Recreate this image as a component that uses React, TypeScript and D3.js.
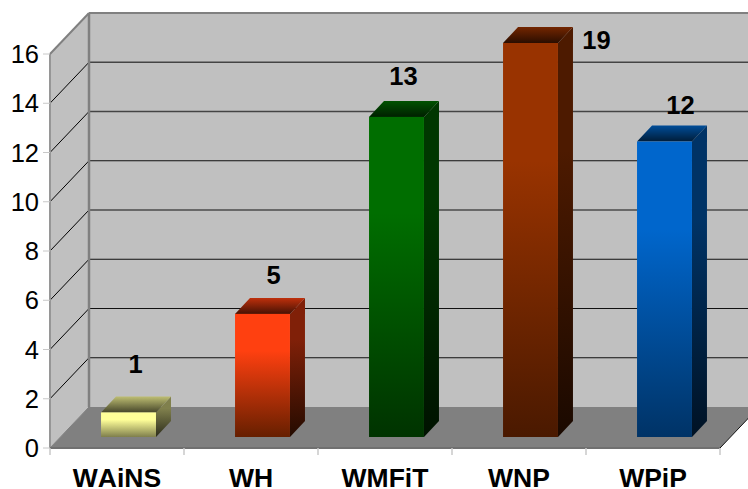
import React from "react";
import * as d3 from "d3";

const categories = ["WAiNS", "WH", "WMFiT", "WNP", "WPiP"];
const values = [1, 5, 13, 19, 12];
const yTicks = [0, 2, 4, 6, 8, 10, 12, 14, 16];
const faceTop = ["#ffff99", "#ff4010", "#006e00", "#993300", "#0066cc"];
const faceBottom = ["#7f7f4c", "#661f00", "#003300", "#4a1900", "#003366"];
// Hand-placed data label nudges from the bar's top centre, as in the original chart
const labelNudgeX = [7, 11, 7, 66, 16];
const labelNudgeY = [-39, -30, -32, 6, -28];

const W = 748, H = 489;
const x0 = 50, x1 = 720, yBase = 448, yTop = 54;
const dx = 39, dy = -41;
const y = d3.scaleLinear().domain([0, 16]).range([yBase, yTop]);
const xBand = d3.scaleBand<string>().domain(categories).range([x0, x1]).paddingInner(0.59).paddingOuter(0.295);
const barDx = 15, barDy = -16, barFx = 11.5, barFy = -11;
const poly = (pts: number[][]) => pts.map(p => p.join(",")).join(" ");
const font = "'Liberation Sans', Arial, sans-serif";

export default function App() {
  const bw = xBand.bandwidth();
  return (
    <svg width={W} height={H} viewBox={`0 0 ${W} ${H}`} style={{ position: "absolute", left: 0, top: 0, background: "#fff" }} fontFamily={font}>
      <defs>
        {categories.map((c, i) => (
          <React.Fragment key={c}>
            <linearGradient id={`f${i}`} x1="0" y1="0" x2="0" y2="1">
              <stop offset="0" stopColor={faceTop[i]} />
              <stop offset="0.3" stopColor={faceTop[i]} />
              <stop offset="1" stopColor={faceBottom[i]} />
            </linearGradient>
            <linearGradient id={`s${i}`} x1="0" y1="0" x2="0" y2="1">
              <stop offset="0" stopColor={d3.interpolateRgb(faceTop[i], "#000")(0.5)} />
              <stop offset="0.3" stopColor={d3.interpolateRgb(faceTop[i], "#000")(0.5)} />
              <stop offset="1" stopColor={d3.interpolateRgb(faceBottom[i], "#000")(0.65)} />
            </linearGradient>
            <linearGradient id={`t${i}`} x1="0" y1="0" x2="0" y2="1">
              <stop offset="0" stopColor={d3.interpolateRgb(faceTop[i], "#000")(0.25)} />
              <stop offset="1" stopColor={d3.interpolateRgb(faceTop[i], "#000")(0.72)} />
            </linearGradient>
          </React.Fragment>
        ))}
      </defs>

      {/* back wall */}
      <polygon points={poly([[x0 + dx, y(16) + dy], [W + 5, y(16) + dy], [W + 5, y(0) + dy], [x0 + dx, y(0) + dy]])} fill="#c0c0c0" />
      {/* side wall */}
      <polygon points={poly([[x0, y(16)], [x0 + dx, y(16) + dy], [x0 + dx, y(0) + dy], [x0, y(0)]])} fill="#c0c0c0" />
      {/* floor */}
      <polygon points={poly([[x0, y(0)], [x1, y(0)], [x1 + dx, y(0) + dy], [x0 + dx, y(0) + dy]])} fill="#808080" />

      {/* gridlines */}
      {yTicks.filter(t => t > 0 && t < 16).map(t => (
        <g key={t} stroke="#000" fill="none">
          <line x1={x0} y1={y(t)} x2={x0 + dx} y2={y(t) + dy} strokeWidth={1} />
          <line x1={x0 + dx} y1={y(t) + dy} x2={W + 5} y2={y(t) + dy} strokeWidth={t > 10 ? 1.3 : 1} stroke={t > 10 ? "#444" : "#111"} />
        </g>
      ))}

      {/* wall borders */}
      <g stroke="#808080" fill="none">
        <line x1={x0} y1={y(16)} x2={x0} y2={y(0)} strokeWidth={2} stroke="#969696" />
        <line x1={x0} y1={y(16)} x2={x0 + dx} y2={y(16) + dy} strokeWidth={2} />
        <line x1={x0 + dx} y1={y(16) + dy} x2={W + 5} y2={y(16) + dy} strokeWidth={2} />
        <line x1={x0 + dx} y1={y(16) + dy} x2={x0 + dx} y2={y(0) + dy} strokeWidth={2.5} />
        <line x1={x0} y1={y(0)} x2={x0 + dx} y2={y(0) + dy} strokeWidth={1} />
        <line x1={x0} y1={y(0)} x2={x1} y2={y(0)} strokeWidth={2} stroke="#707070" />
      </g>
      <line x1={x1} y1={y(0)} x2={x1 + dx} y2={y(0) + dy} stroke="#111" strokeWidth={1} />

      {/* ticks */}
      {yTicks.map(t => (
        <g key={t}>
          <line x1={x0 - 7} y1={y(t)} x2={x0} y2={y(t)} stroke="#c8c8c8" strokeWidth={1} />
          <text x={x0 - 11} y={y(t) + 9} textAnchor="end" fontSize={25.5} fill="#000">{t}</text>
        </g>
      ))}
      {d3.range(categories.length + 1).map(i => {
        const px = x0 + (i * (x1 - x0)) / categories.length;
        return <line key={i} x1={px} y1={yBase} x2={px} y2={yBase + 7} stroke="#c8c8c8" strokeWidth={1.5} />;
      })}

      {/* bars */}
      {categories.map((c, i) => {
        const v = Math.min(values[i], 16);
        const left = xBand(c)! + barFx;
        const right = left + bw;
        const bottom = y(0) + barFy;
        const top = y(v) + barFy;
        return (
          <g key={c}>
            <polygon points={poly([[right, top], [right + barDx, top + barDy], [right + barDx, bottom + barDy], [right, bottom]])} fill={`url(#s${i})`} />
            <polygon points={poly([[left, top], [left + barDx, top + barDy], [right + barDx, top + barDy], [right, top]])} fill={`url(#t${i})`} />
            <rect x={left} y={top} width={bw} height={bottom - top} fill={`url(#f${i})`} />
          </g>
        );
      })}

      {/* value labels */}
      {categories.map((c, i) => {
        const v = Math.min(values[i], 16);
        const cx = xBand(c)! + barFx + bw / 2 + labelNudgeX[i];
        return (
          <text key={c} x={cx} y={y(v) + barFy + labelNudgeY[i]} textAnchor="middle" fontSize={25.5} fontWeight="bold" fill="#000">{values[i]}</text>
        );
      })}

      {/* category labels */}
      {categories.map((c, i) => (
        <text key={c} x={x0 + (i + 0.5) * (x1 - x0) / categories.length} y={486.5} textAnchor="middle" fontSize={26.5} fontWeight="bold" fill="#000" style={{ fontKerning: "none" }}>{c}</text>
      ))}
    </svg>
  );
}
